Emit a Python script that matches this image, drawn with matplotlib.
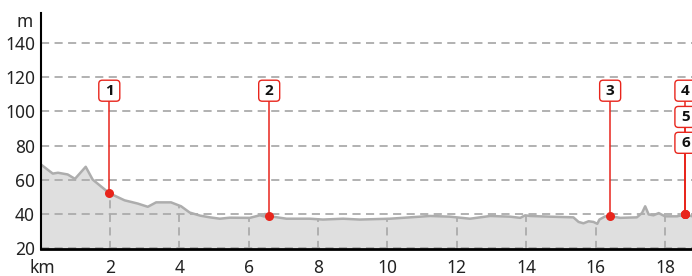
import matplotlib
matplotlib.use('Agg')
import matplotlib.pyplot as plt
import matplotlib.transforms as mtransforms
from matplotlib.patches import FancyBboxPatch

plt.rcParams['font.family'] = ['Noto Sans', 'DejaVu Sans']

# elevation profile (km, m)
dist_km = [0.0, 0.35, 0.5, 0.78, 0.99, 1.3, 1.5, 1.98, 2.42, 2.8, 3.09, 3.33, 3.76,
           4.05, 4.3, 4.6, 4.88, 5.17, 5.45, 6.03, 6.32, 6.45, 6.47, 6.59, 7.09, 7.76,
           8.14, 8.72, 9.2, 10.07, 11.23, 11.8, 12.38, 12.96, 13.54, 13.83, 13.97,
           14.11, 14.69, 15.36, 15.51, 15.65, 15.8, 15.94, 16.05, 16.11, 16.28, 16.42,
           16.71, 17.19, 17.34, 17.43, 17.53, 17.67, 17.82, 18.0, 18.35, 18.59, 18.79]
elev_m = [69, 63.5, 64, 63, 60.4, 67.5, 60, 52, 47.8, 45.9, 44, 46.6, 46.6,
          44.3, 40.6, 38.8, 37.8, 37, 37.6, 37.5, 39, 38.3, 39.8, 38.5, 37, 37,
          36.5, 37, 36.5, 37, 38.6, 38.2, 37, 38.6, 38.2, 37.5, 39,
          38.6, 38.2, 37.8, 35.1, 34.3, 35.5, 35.1, 34, 36.5, 38.4, 38.5,
          37.5, 37.8, 40.4, 44.3, 39.5, 39, 40.3, 38.4, 38.4, 39.5, 38.4]

# points of interest
poi_labels = ['1', '2', '3', '4', '5', '6']
poi_km = [1.98, 6.59, 16.42, 18.59, 18.59, 18.59]
poi_elev = [52, 38.5, 38.5, 39.5, 39.5, 39.5]
poi_box_y = [112.2, 112.2, 112.2, 112.2, 96.8, 81.6]

y_ticks = [20, 40, 60, 80, 100, 120, 140]
x_ticks = [2, 4, 6, 8, 10, 12, 14, 16, 18]

red = '#e8251c'
grid_col = '#ababab'
txt_col = '#222222'

fig = plt.figure(figsize=(6.92, 2.76), dpi=100)
ax = fig.add_axes([0.0587, 0.0978, 0.9413, 0.856])
ax.set_xlim(0, 18.78)
ax.set_ylim(19.2, 158)

fill = ax.fill_between(dist_km, elev_m, 0, color='#dfdfdf', lw=0, zorder=1)

for y in y_ticks:
    ax.axhline(y, color=grid_col, lw=1.3, ls=(0, (4.5, 3)), zorder=2)

# vertical km lines only inside the profile
clip = fill.get_paths()[0]
for x in x_ticks:
    ln = ax.axvline(x, color=grid_col, lw=1.3, ls=(0, (4.5, 3)), zorder=2)
    ln.set_clip_path(clip, ax.transData)

ax.plot(dist_km, elev_m, color='#adadad', lw=1.8, zorder=3, solid_joinstyle='round')

for lab, xk, ye, yb in zip(poi_labels, poi_km, poi_elev, poi_box_y):
    ax.plot([xk, xk], [ye, yb], color=red, lw=1.1, zorder=4)
    ax.plot(xk, ye, 'o', color=red, ms=6.5, mec='none', zorder=5)
    tr = fig.dpi_scale_trans + mtransforms.ScaledTranslation(xk, yb, ax.transData)
    box = FancyBboxPatch((-0.075, -0.075), 0.15, 0.15,
                         boxstyle='round,pad=0.03,rounding_size=0.035',
                         fc='white', ec=red, lw=1.0, transform=tr, zorder=6,
                         clip_on=False)
    ax.add_patch(box)
    ax.text(xk, yb, lab, ha='center', va='center', fontsize=11,
            family=['Open Sans', 'DejaVu Sans'], fontweight='bold',
            color='#111111', zorder=7, clip_on=False)

for s in ['top', 'right']:
    ax.spines[s].set_visible(False)
ax.spines['left'].set_linewidth(1.5)
ax.spines['bottom'].set_linewidth(2.0)
ax.spines['left'].set_zorder(8)
ax.spines['bottom'].set_zorder(8)

ax.set_yticks(y_ticks)
ax.set_xticks(x_ticks)
ax.tick_params(length=0, labelsize=12.5, colors=txt_col)
ax.tick_params(axis='y', pad=4)
ax.tick_params(axis='x', pad=7.5)

ax.text(-0.012, 1.0, 'm', transform=ax.transAxes, ha='right', va='top',
        fontsize=12.5, color=txt_col)
km_tr = mtransforms.offset_copy(ax.transAxes, fig=fig, y=-7.5, units='points')
ax.text(0.003, 0, 'km', transform=km_tr, ha='center', va='top',
        fontsize=12.5, color=txt_col)

fig.savefig('out.png', dpi=100)
